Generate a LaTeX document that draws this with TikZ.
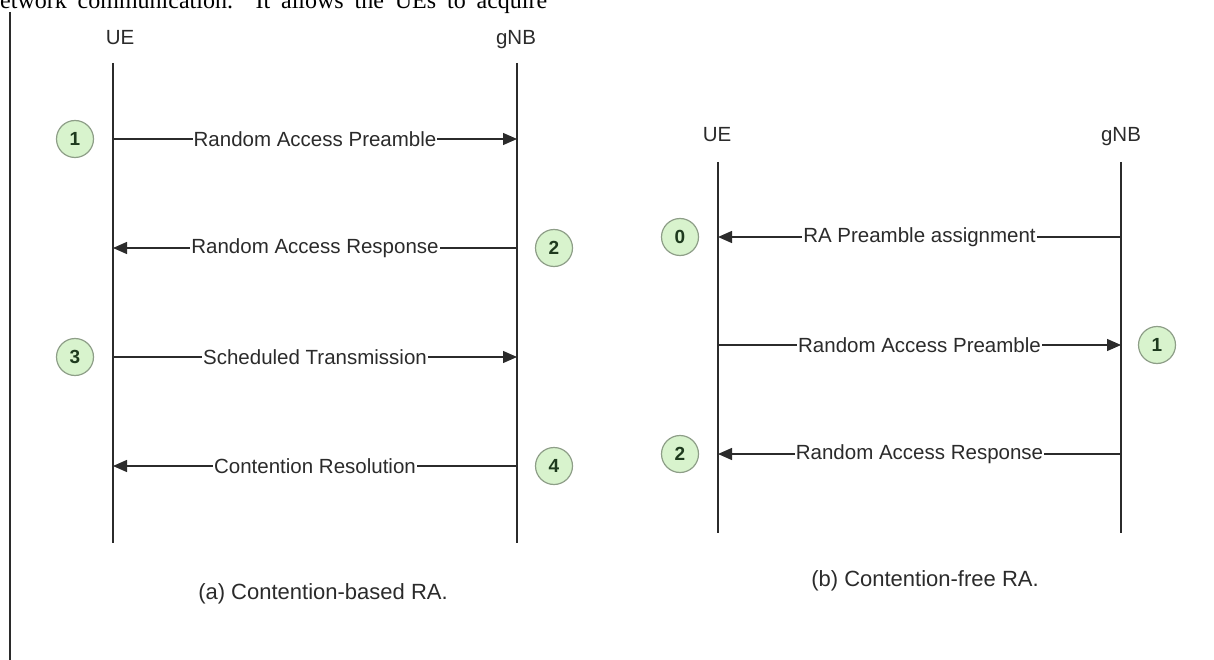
\documentclass[tikz,border=0pt]{standalone}
\usepackage{fontspec}
\setmainfont{Liberation Sans}
\newfontfamily\bodyserif{Liberation Serif}
\usetikzlibrary{arrows.meta}
\definecolor{ink}{HTML}{2B2B2B}
\definecolor{ring}{HTML}{8E9E88}
\definecolor{mint}{HTML}{D8F3CD}
\definecolor{digit}{HTML}{1E3A1E}
\tikzset{
  life/.style={draw=ink, line width=1.5pt},
  msg/.style={draw=ink, line width=1.3pt, -{Triangle[length=14pt,width=12pt]}},
  msglab/.style={fill=white, inner sep=1pt, text=ink, font=\fontsize{20.5}{24}\selectfont},
  num/.style={circle, draw=ring, fill=mint, line width=1.2pt, minimum size=37pt, inner sep=0pt, text=digit, font=\bfseries\fontsize{19}{22}\selectfont},
  head/.style={text=ink, text height=15pt, text depth=4pt, font=\fontsize{20.5}{24}\selectfont},
  capt/.style={text=ink, text height=15pt, text depth=4pt, font=\fontsize{22}{26}\selectfont},
}

\begin{document}
\begin{tikzpicture}[x=1pt,y=-1pt]
  \useasboundingbox (0,0) rectangle (1214,660);
  \clip (0,0) rectangle (1214,660);

  % clipped line of the page above
  \node[anchor=base west, inner sep=0pt, font=\bodyserif\fontsize{24}{28}\selectfont] (body) at (-12,9)
    {\makebox[559pt][s]{network communication. It allows the UEs to acquire}};
  \coordinate (rule top) at (10,12);
  \coordinate (rule bot) at (10,660);
  \draw[draw=ink, line width=2pt] (rule top) -- (rule bot);

  % (a) contention-based
  \node[head] (ueA) at (120,39) {UE};
  \node[head] (gnbA) at (516,39) {gNB};
  \coordinate (ueA top) at (113,63);
  \coordinate (ueA bot) at (113,543);
  \coordinate (gnbA top) at (517,63);
  \coordinate (gnbA bot) at (517,543);
  \draw[life] (ueA top) -- (ueA bot);
  \draw[life] (gnbA top) -- (gnbA bot);
  \foreach \y [count=\i] in {139,248,357,466} {
    \coordinate (ueA\i) at (113,\y);
    \coordinate (gnbA\i) at (517,\y);
  }
  \draw[msg] (ueA1) -- node[msglab] {Random Access Preamble} (gnbA1);
  \draw[msg] (gnbA2) -- node[msglab] {Random Access Response} (ueA2);
  \draw[msg] (ueA3) -- node[msglab] {Scheduled Transmission} (gnbA3);
  \draw[msg] (gnbA4) -- node[msglab] {Contention Resolution} (ueA4);
  \node[num] (nA1) at (75,139) {1};
  \node[num] (nA2) at (554,248) {2};
  \node[num] (nA3) at (75,357) {3};
  \node[num] (nA4) at (554,466) {4};
  \node[capt] (capA) at (323,594) {(a) Contention-based RA.};

  % (b) contention-free
  \node[head] (ueB) at (717,136) {UE};
  \node[head] (gnbB) at (1121,136) {gNB};
  \coordinate (ueB top) at (718,162);
  \coordinate (ueB bot) at (718,533);
  \coordinate (gnbB top) at (1121,162);
  \coordinate (gnbB bot) at (1121,533);
  \draw[life] (ueB top) -- (ueB bot);
  \draw[life] (gnbB top) -- (gnbB bot);
  \foreach \y [count=\i] in {237,345,454} {
    \coordinate (ueB\i) at (718,\y);
    \coordinate (gnbB\i) at (1121,\y);
  }
  \draw[msg] (gnbB1) -- node[msglab] {RA Preamble assignment} (ueB1);
  \draw[msg] (ueB2) -- node[msglab] {Random Access Preamble} (gnbB2);
  \draw[msg] (gnbB3) -- node[msglab] {Random Access Response} (ueB3);
  \node[num] (nB0) at (680,237) {0};
  \node[num] (nB1) at (1157,345) {1};
  \node[num] (nB2) at (680,454) {2};
  \node[capt] (capB) at (925,581) {(b) Contention-free RA.};
\end{tikzpicture}
\end{document}
